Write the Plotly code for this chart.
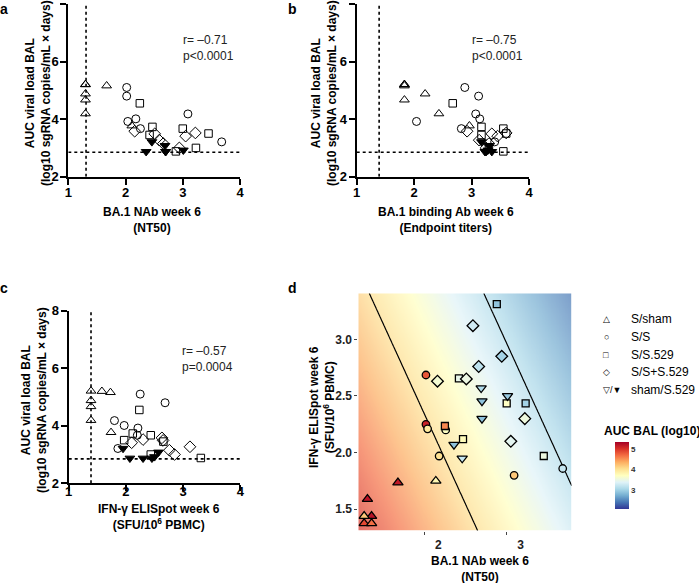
import numpy as np
import plotly.graph_objects as go

W, H = 699, 583

# ---------------- data (per animal) ----------------
groups = ["S/sham", "S/S", "S/S.529", "S/S+S.529", "sham/S.529"]

# BA.1 NAb week 6 (log10 NT50)
nab = {
    "S/sham":     [1.30, 1.30, 1.67, 1.30, 1.30, 1.30, 2.11],
    "S/S":        [2.02, 2.02, 2.04, 2.18, 2.26, 3.09, 3.68],
    "S/S.529":    [2.25, 2.47, 2.42, 3.00, 3.23, 2.88, 3.45],
    "S/S+S.529":  [2.16, 2.51, 2.59, 2.66, 2.94, 3.05, 3.22],
    "sham/S.529": [2.46, 2.36, 3.01, 2.69, 2.70, 2.70],
}
# BA.1 binding Ab week 6 (log10 endpoint titers)
bind = {
    "S/sham":     [1.83, 1.83, 1.83, 2.19, 1.83, 2.43, 2.96],
    "S/S":        [2.88, 3.12, 2.04, 3.14, 2.82, 3.07, 3.40],
    "S/S.529":    [2.67, 3.17, 3.17, 3.55, 3.30, 3.55, 3.60],
    "S/S+S.529":  [2.92, 3.35, 3.13, 3.30, 3.25, 3.45, 3.60],
    "sham/S.529": [3.17, 3.23, 3.28, 3.30, 3.35, 3.25],
}
# IFN-g ELISpot week 6 (log10 SFU/10^6 PBMC)
eli = {
    "S/sham":     [1.39, 1.58, 1.73, 1.39, 1.39, 1.39, 1.74],
    "S/S":        [2.25, 2.685, 2.21, 1.97, 2.20, 1.80, 1.86],
    "S/S.529":    [2.235, 2.12, 2.655, 2.435, 2.435, 3.31, 1.97],
    "S/S+S.529":  [2.63, 2.65, 3.12, 2.76, 2.85, 2.10, 2.30],
    "sham/S.529": [1.95, 2.07, 2.50, 2.57, 2.30, 2.455],
}
# AUC viral load BAL (log10 sgRNA copies/mL x days)
auc = {
    "S/sham":     [5.21, 5.20, 5.16, 4.88, 4.67, 4.19, 3.77],
    "S/S":        [5.10, 4.80, 3.92, 4.01, 3.67, 4.18, 3.21],
    "S/S.529":    [4.55, 3.73, 3.45, 3.67, 3.00, 2.88, 3.50],
    "S/S+S.529":  [3.58, 3.49, 3.27, 3.15, 3.00, 3.41, 3.52],
    "sham/S.529": [3.21, 2.87, 2.92, 3.08, 2.87, 2.87],
}
# panel d: S/sham animals at the limit of detection are jittered
nab_d_sham = [1.36, 1.31, 1.68, 1.27, 1.36, 1.27, 2.14]
eli_d_sham = [1.44, 1.59, 1.735, 1.376, 1.376, 1.44, 1.75]

# limits of detection
lod_auc = 2.85
lod_nab = 1.31
lod_bind = 1.39
lod_eli = 1.39

stats = {"a": "r= \u20130.71<br>p&lt;0.0001",
         "b": "r= \u20130.75<br>p&lt;0.0001",
         "c": "r= \u20130.57<br>p=0.0004"}

# fitted surface for panel d background: AUC ~ c0 + cN*NAb + cE*ELISpot
c0, cN, cE = 6.352, -0.669, -0.420
contour_levels = (3.10, 4.03)

# ---------------- styling ----------------
symbols_open = {"S/sham": "triangle-up-open", "S/S": "circle-open", "S/S.529": "square-open",
                "S/S+S.529": "diamond-open", "sham/S.529": "triangle-down"}
symbols_fill = {"S/sham": "triangle-up", "S/S": "circle", "S/S.529": "square",
                "S/S+S.529": "diamond", "sham/S.529": "triangle-down"}
sizes = {"S/sham": 8.5, "S/S": 8, "S/S.529": 7.5, "S/S+S.529": 9, "sham/S.529": 8.5}
sizes_d = {"S/sham": 9, "S/S": 7.5, "S/S.529": 7, "S/S+S.529": 9, "sham/S.529": 9}

cscale = [[0.0, "#313695"], [0.1, "#4575b4"], [0.2, "#74add1"], [0.3, "#abd9e9"],
          [0.4, "#e0f3f8"], [0.5, "#ffffbf"], [0.6, "#fee090"], [0.7, "#fdae61"],
          [0.8, "#f46d43"], [0.9, "#d73027"], [1.0, "#a50026"]]
cmin, cmax = 2.06, 5.33

FONT = "Liberation Sans, Arial, sans-serif"

def px2x(p):
    return p / W

def py2y(p):
    return 1 - p / H

fig = go.Figure()

# ---- axes domains ----
dom = {
    "a": ([68.3, 240.0], [4.0, 176.7]),
    "b": ([356.7, 529.2], [4.0, 176.7]),
    "c": ([68.7, 240.3], [310.7, 483.3]),
    "d": ([358.3, 571.7], [293.3, 530.7]),
}
axis_ids = {"a": ("x", "y"), "b": ("x2", "y2"), "c": ("x3", "y3"), "d": ("x4", "y4")}
xstandoff = {"a": -3, "b": -3, "c": -11}

layout_axes = {}
for k, (xd, yd) in dom.items():
    xa, ya = axis_ids[k]
    xname = "xaxis" if xa == "x" else "xaxis" + xa[1:]
    yname = "yaxis" if ya == "y" else "yaxis" + ya[1:]
    xdom = [px2x(xd[0]), px2x(xd[1])]
    ydom = [py2y(yd[1]), py2y(yd[0])]
    if k != "d":
        common = dict(showline=True, linecolor="black", linewidth=2, ticks="outside",
                      ticklen=6, tickwidth=2, tickcolor="black", showgrid=False,
                      zeroline=False, tickfont=dict(family=FONT, size=13, color="black", weight="bold"))
        layout_axes[xname] = dict(domain=xdom, range=[1, 4], tickvals=[1, 2, 3, 4],
                                  anchor=ya, ticklabelstandoff=xstandoff[k], **common)
        layout_axes[yname] = dict(domain=ydom, range=[2, 8], tickvals=[2, 4, 6, 8],
                                  anchor=xa, ticklabelstandoff=-1, **common)
    else:
        common = dict(showline=False, ticks="outside", ticklen=3, tickwidth=1,
                      tickcolor="#444", showgrid=False, zeroline=False,
                      tickfont=dict(family=FONT, size=12, color="#222", weight="bold"))
        layout_axes[xname] = dict(domain=xdom, range=[1.199, 3.789], tickvals=[2, 3],
                                  anchor=ya, ticklabelshift=14, **common)
        layout_axes[yname] = dict(domain=ydom, range=[1.311, 3.406],
                                  tickvals=[1.5, 2.0, 2.5, 3.0], ticktext=["1.5", "2.0", "2.5", "3.0"],
                                  anchor=xa, **common)

# ---- panels a, b, c ----
xvals = {"a": nab, "b": bind, "c": eli}
for k in ["a", "b", "c"]:
    xa, ya = axis_ids[k]
    for g in groups:
        if g == "sham/S.529":
            marker = dict(symbol="triangle-down", size=sizes[g], color="black",
                          line=dict(color="black", width=1))
        else:
            marker = dict(symbol=symbols_open[g], size=sizes[g], color="black",
                          line=dict(color="black", width=1))
        fig.add_trace(go.Scatter(x=xvals[k][g], y=auc[g], mode="markers", marker=marker,
                                 xaxis=xa, yaxis=ya, showlegend=False, hoverinfo="skip"))

# ---- panel d background ----
gx = np.linspace(1.199, 3.789, 140)
gy = np.linspace(1.311, 3.406, 140)
GX, GY = np.meshgrid(gx, gy)
GZ = c0 + cN * GX + cE * GY
fig.add_trace(go.Heatmap(x=gx, y=gy, z=GZ, colorscale=cscale, zmin=cmin, zmax=cmax,
                         opacity=0.7, zsmooth="best", xaxis="x4", yaxis="y4",
                         hoverinfo="skip",
                         colorbar=dict(x=px2x(615), xanchor="left", y=py2y(475.8), yanchor="middle",
                                       len=67, lenmode="pixels", thickness=14,
                                       thicknessmode="pixels", outlinewidth=0, xpad=0, ypad=0,
                                       tickvals=[3, 4, 5], ticks="",
                                       tickfont=dict(family=FONT, size=8, color="#333", weight="bold"))))
fig.add_trace(go.Contour(x=gx, y=gy, z=GZ, showscale=False, xaxis="x4", yaxis="y4",
                         contours=dict(start=contour_levels[0], end=contour_levels[1],
                                       size=contour_levels[1] - contour_levels[0],
                                       coloring="none"),
                         line=dict(color="black", width=1.2), hoverinfo="skip"))

# ---- panel d points ----
for g in groups:
    xs = nab_d_sham if g == "S/sham" else nab[g]
    ys = eli_d_sham if g == "S/sham" else eli[g]
    fig.add_trace(go.Scatter(x=xs, y=ys, mode="markers", xaxis="x4", yaxis="y4",
                             marker=dict(symbol=symbols_fill[g], size=sizes_d[g],
                                         color=auc[g], colorscale=cscale, cmin=cmin, cmax=cmax,
                                         line=dict(color="black", width=1.3)),
                             showlegend=False, hoverinfo="skip"))

# ---- dotted LOD lines ----
shapes = []
lods = {"a": lod_nab, "b": lod_bind, "c": lod_eli}
for k in ["a", "b", "c"]:
    xa, ya = axis_ids[k]
    shapes.append(dict(type="line", xref=xa, yref=ya, x0=lods[k], x1=lods[k], y0=2, y1=8,
                       line=dict(color="black", width=1.6, dash="dot")))
    shapes.append(dict(type="line", xref=xa, yref=ya, x0=1, x1=4, y0=lod_auc, y1=lod_auc,
                       line=dict(color="black", width=1.6, dash="dot")))

# ---- annotations ----
ann = []
def A(text, x, y, size=12, bold=False, angle=0, xanchor="center", yanchor="middle",
      color="black", align="center"):
    f = dict(family=FONT, size=size, color=color)
    if bold:
        f["weight"] = "bold"
    ann.append(dict(text=text, x=px2x(x), y=py2y(y), xref="paper", yref="paper",
                    showarrow=False, font=f, textangle=angle, xanchor=xanchor,
                    yanchor=yanchor, align=align, borderpad=0))

# panel letters
A("a", 4, 9, size=14, bold=True)
A("b", 292, 9, size=14, bold=True)
A("c", 4, 288, size=14, bold=True)
A("d", 292, 288, size=14, bold=True)

ytitle = "AUC viral load BAL<br>(log10 sgRNA copies/mL \u00d7 days)"
A(ytitle, 38, 93, size=12, bold=True, angle=-90)
A(ytitle, 324, 93, size=12, bold=True, angle=-90)
A(ytitle, 34, 400, size=12, bold=True, angle=-90)
A("BA.1 NAb week 6<br>(NT50)", 152, 220, size=12, bold=True)
A("BA.1 binding Ab week 6<br>(Endpoint titers)", 446, 220, size=12, bold=True)
A("IFN-\u03b3 ELISpot week 6<br>(SFU/10<sup>6</sup> PBMC)", 159, 517, size=12, bold=True)
A("IFN-\u03b3 ELISpot week 6<br>(SFU/10<sup>6</sup> PBMC)", 322, 407, size=12, bold=True, angle=-90)
A("BA.1 NAb week 6<br>(NT50)", 480, 569, size=12, bold=True)

A(stats["a"], 182, 47.5, size=12, xanchor="left", color="#222", align="left")
A(stats["b"], 471, 47.5, size=12, xanchor="left", color="#222", align="left")
A(stats["c"], 181, 359, size=12, xanchor="left", color="#222", align="left")

# legend
leg_sym = ["\u25b3", "\u25cb", "\u25a1", "\u25c7", "\u25bd/\u25bc"]
leg_y = [319.3, 337.3, 354.5, 372.3, 389.5]
for s, g, yy in zip(leg_sym, groups, leg_y):
    A(s, 606 if "/" not in s else 612, yy, size=9, color="black")
    A(g, 630, yy, size=12, xanchor="left", color="black")

A("AUC BAL (log10)", 603, 431, size=12, bold=True, xanchor="left")

fig.update_layout(width=W, height=H, margin=dict(l=0, r=0, t=0, b=0, autoexpand=False),
                  paper_bgcolor="white", plot_bgcolor="white", shapes=shapes,
                  annotations=ann, showlegend=False, **layout_axes)

fig.write_html("out.html", config={"displayModeBar": False},
               post_script="document.body.style.margin='0';")
